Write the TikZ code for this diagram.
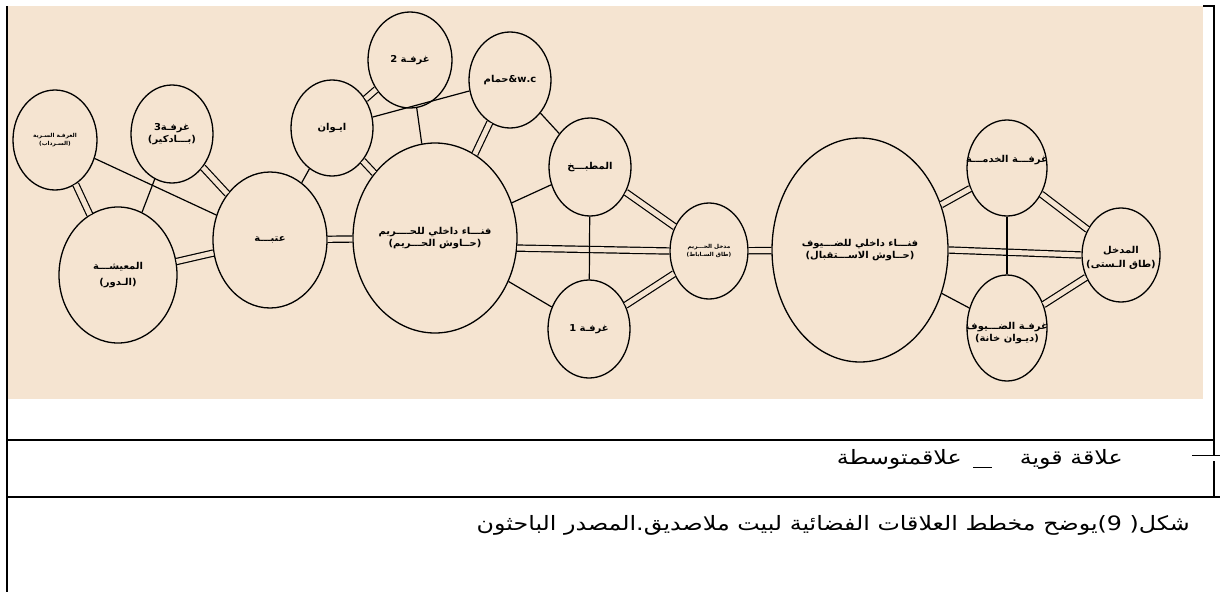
\documentclass[tikz,border=0pt]{standalone}
\usepackage{fontspec}
\usetikzlibrary{shapes.geometric}
\TeXXeTstate=1
\newfontfamily\arabicroom[Script=Arabic,FakeStretch=1.05]{DejaVu Sans}
\newfontfamily\arabicwide[Script=Arabic,FakeStretch=1.2]{DejaVu Sans}
\definecolor{bg}{RGB}{245,228,209}
\tikzset{
  room/.style={ellipse, draw, line width=1.3pt, inner sep=0pt},
  rtext/.style={inner sep=0pt, align=center,
    font=\arabicroom\bfseries\fontsize{9.5}{12.5}\selectfont},
  tiny/.style={inner sep=0pt, align=center,
    font=\arabicroom\bfseries\fontsize{5.5}{7.5}\selectfont},
  strong/.style={line width=1.2pt, double=bg, double distance=5pt},
  medium/.style={line width=1.2pt},
  frameline/.style={line width=1.8pt},
  legtext/.style={inner sep=0pt, font=\arabicwide\fontsize{19.8}{23}\selectfont}
}
\begin{document}
\begin{tikzpicture}[x=1pt,y=-1pt]
\useasboundingbox (0,0) rectangle (1220,592);
\fill[white] (0,0) rectangle (1220,592);
% beige panel
\fill[bg] (8,6) rectangle (1203,399);
% frame
\draw[frameline] (7,6) -- (7,592);
\draw[frameline] (1203,6) -- (1214,6);
\draw[frameline] (1214,5) -- (1214,497);
\draw[frameline] (7,440) -- (1214,440);
\draw[frameline] (7,497) -- (1220,497);

% rooms
\node[room,minimum width=84pt,minimum height=100pt,
  label={[tiny]center:{\beginR الغرفـة السـرية\endR\\\beginR (السـرداب)\endR}}] (sir) at (55,140) {};
\node[room,minimum width=82pt,minimum height=98pt,
  label={[rtext]center:{\beginR غرفـة3\endR\\\beginR (بـــادكير)\endR}}] (gh3) at (172,134) {};
\node[room,minimum width=118pt,minimum height=136pt,
  label={[rtext]center:{\beginR المعيشـــة\endR\\[4pt]\beginR (الـدور)\endR}}] (maish) at (118,275) {};
\node[room,minimum width=114pt,minimum height=136pt,
  label={[rtext]center:{\beginR عتبـــة\endR}}] (ataba) at (270,240) {};
\node[room,minimum width=82pt,minimum height=96pt,
  label={[rtext]center:{\beginR ايـوان\endR}}] (iwan) at (332,128) {};
\node[room,minimum width=84pt,minimum height=96pt,
  label={[rtext]center:{\beginR غرفـة 2\endR}}] (gh2) at (410,60) {};
\node[room,minimum width=82pt,minimum height=96pt,
  label={[rtext]center:{\beginR حمام\endR\&w.c}}] (wc) at (510,80) {};
\node[room,minimum width=164pt,minimum height=190pt,
  label={[rtext]center:{\beginR فنـــاء داخلي للحــــريم\endR\\\beginR (حــاوش الحـــريم)\endR}}] (fh) at (435,238) {};
\node[room,minimum width=82pt,minimum height=98pt,
  label={[rtext]center:{\beginR المطبـــخ\endR}}] (matbakh) at (590,167) {};
\node[room,minimum width=82pt,minimum height=98pt,
  label={[rtext]center:{\beginR غرفـة 1\endR}}] (gh1) at (589,329) {};
\node[room,minimum width=78pt,minimum height=96pt,
  label={[tiny]center:{\beginR مدخل الحـــريم\endR\\\beginR (طاق السـاباط)\endR}}] (mh) at (709,251) {};
\node[room,minimum width=176pt,minimum height=224pt,
  label={[rtext]center:{\beginR فنـــاء داخلي للضـــيوف\endR\\\beginR (حــاوش الاســـتقبال)\endR}}] (fd) at (860,250) {};
\node[room,minimum width=80pt,minimum height=96pt,
  label={[rtext,yshift=8pt]center:{\beginR غرفـــة الخدمـــة\endR}}] (khidma) at (1007,168) {};
\node[room,minimum width=80pt,minimum height=106pt,
  label={[rtext,yshift=-5pt]center:{\beginR غرفـة الضـــيوف\endR\\\beginR (ديـوان خانة)\endR}}] (duyuf) at (1007,328) {};
\node[room,minimum width=78pt,minimum height=94pt,
  label={[rtext,yshift=-3pt]center:{\beginR المدخل\endR\\[2pt]\beginR (طاق الـستى)\endR}}] (madkhal) at (1121,255) {};

% strong relations
\draw[strong] (sir) -- (maish);
\draw[strong] (gh3) -- (ataba);
\draw[strong] (maish) -- (ataba);
\draw[strong] (ataba) -- (fh);
\draw[strong] (iwan) -- (gh2);
\draw[strong] (iwan) -- (fh);
\draw[strong] (wc) -- (fh);
\draw[strong] (fh.-7) -- (mh.west);
\draw[strong] (matbakh) -- (mh);
\draw[strong] (gh1) -- (mh);
\draw[strong] (mh) -- (fd);
\draw[strong] (fd) -- (khidma);
\draw[strong] (fd.east) -- (madkhal.west);
\draw[strong] (khidma) -- (madkhal);
\draw[strong] (duyuf) -- (madkhal);
% medium relations
\draw[medium] (sir) -- (ataba);
\draw[medium] (gh3) -- (maish);
\draw[medium] (ataba) -- (iwan);
\draw[medium] (iwan) -- (wc);
\draw[medium] (gh2) -- (fh);
\draw[medium] (wc) -- (matbakh);
\draw[medium] (matbakh) -- (fh);
\draw[medium] (fh) -- (gh1);
\draw[medium] (matbakh) -- (gh1);
\draw[medium] (khidma) -- (duyuf);
\draw[medium] (fd) -- (duyuf);

% legend
\coordinate (ls1) at (1192,458);
\coordinate (ls2) at (1222,458);
\draw[line width=0.9pt, double=white, double distance=5pt] (ls1) -- (ls2);
\node[legtext,anchor=east] (lstrong) at (1123,459) {\beginR علاقة قوية\endR};
\coordinate (lm1) at (973,467);
\coordinate (lm2) at (992,467);
\draw[line width=0.9pt] (lm1) -- (lm2);
\node[legtext,anchor=east] (lmed) at (962,459) {\beginR علاقمتوسطة\endR};

% caption
\node[legtext,anchor=east] (cap) at (1190,525)
  {\beginR شكل( 9)يوضح مخطط العلاقات الفضائية لبيت ملاصديق.المصدر الباحثون\endR};
\end{tikzpicture}
\end{document}
